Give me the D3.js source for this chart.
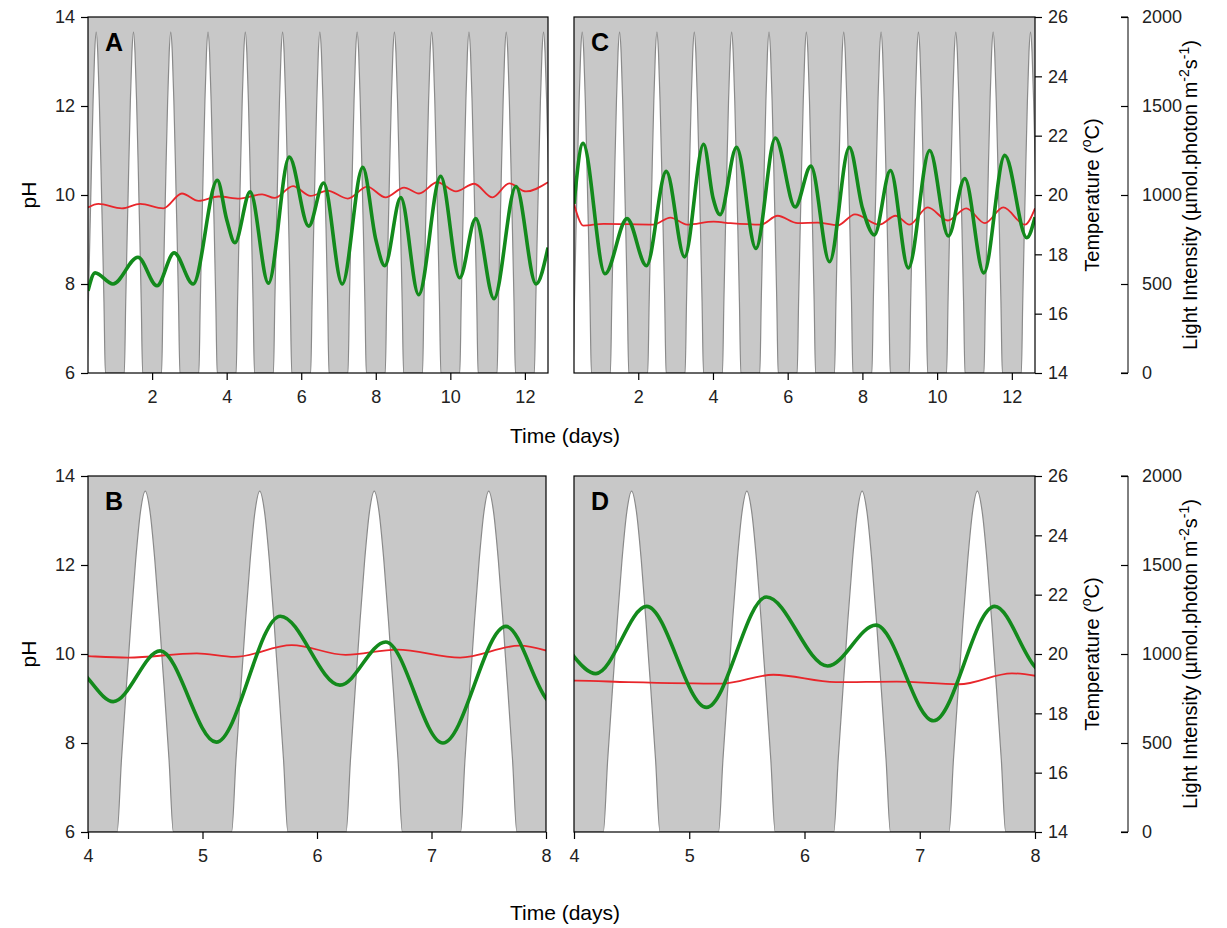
<!DOCTYPE html>
<html>
<head>
<meta charset="utf-8">
<script src="https://cdn.jsdelivr.net/npm/d3@7"></script>
<style>
  body { margin: 0; background: #fff; }
  text { font-family: "Liberation Sans", Arial, sans-serif; }
</style>
</head>
<body>
<svg id="chart" width="1227" height="928"></svg>
<script>
var phA = [[0.28,7.85],[0.47,8.25],[0.95,8.0],[1.62,8.6],[2.13,7.96],[2.59,8.7],[3.1,8.0],
  [3.75,10.33],[4.0,9.45],[4.22,8.93],[4.63,10.07],[5.12,8.02],[5.68,10.85],[6.2,9.3],[6.6,10.27],
  [7.1,8.0],[7.65,10.62],[8.0,9.0],[8.24,8.41],[8.67,9.94],[9.15,7.76],[9.74,10.42],[10.25,8.14],
  [10.68,9.47],[11.17,7.67],[11.76,10.19],[12.3,8.0],[12.62,8.82]];
var phC = [[0.28,9.8],[0.52,11.16],[1.11,8.23],[1.7,9.47],[2.22,8.41],[2.75,10.53],[3.24,8.61],
  [3.75,11.14],[4.0,9.94],[4.19,9.56],[4.63,11.07],[5.15,8.8],[5.67,11.28],[6.2,9.73],[6.62,10.65],
  [7.12,8.5],[7.65,11.07],[8.0,9.71],[8.32,9.1],[8.75,10.55],[9.23,8.36],[9.8,11.0],[10.3,9.08],
  [10.74,10.37],[11.25,8.25],[11.81,10.89],[12.4,9.04],[12.62,9.5]];
// temperature (red), [day, °C]
var tempA = [[0.28,19.58],[0.56,19.7],[1.19,19.55],[1.68,19.7],[2.3,19.55],[2.8,20.05],[3.25,19.8],
  [3.78,19.95],[4.35,19.88],[4.95,20.02],[5.28,19.9],[5.78,20.3],[6.25,19.97],[6.7,20.15],
  [7.25,19.88],[7.77,20.28],[8.26,19.92],[8.76,20.25],[9.16,20.05],[9.65,20.43],[10.15,20.12],
  [10.64,20.38],[11.13,19.92],[11.58,20.39],[12.03,20.12],[12.62,20.43]];
var tempC = [[0.28,19.7],[0.53,18.97],[1.07,19.03],[2.41,19.0],[2.86,19.24],[3.31,19.0],[4.02,19.1],
  [4.47,19.05],[5.28,19.0],[5.73,19.3],[6.27,19.05],[6.8,19.07],[7.34,18.98],[7.8,19.35],
  [8.45,19.0],[8.89,19.3],[9.26,19.0],[9.75,19.58],[10.29,19.14],[10.78,19.55],[11.28,19.05],
  [11.77,19.58],[12.35,19.0],[12.62,19.55]];
// one day's light profile, [hour, µmol photon m-2 s-1], repeated every day
var lightDay = [[6.1,0],[7,400],[8,800],[8.5,985],[9,1180],[10,1530],[11,1800],[12,1915],
  [13,1800],[14,1530],[15,1180],[15.5,985],[16,800],[17,400],[17.9,0]];
var pHTicks = [6, 8, 10, 12, 14];
var tempTicks = [14, 16, 18, 20, 22, 24, 26];
var lightTicks = [0, 500, 1000, 1500, 2000];

var svg = d3.select("#chart");

function lightSeries(d0, d1) {
  var pts = [];
  for (var day = Math.floor(d0) - 1; day <= Math.ceil(d1); day++) {
    lightDay.forEach(function (p) { pts.push([day + p[0] / 24, p[1]]); });
  }
  return pts;
}

function panel(o) {
  var x = d3.scaleLinear().domain(o.days).range([o.x0, o.x1]);
  var yPH = d3.scaleLinear().domain([6, 14]).range([o.y1, o.y0]);
  var yT = d3.scaleLinear().domain([14, 26]).range([o.y1, o.y0]);
  var yL = d3.scaleLinear().domain([0, 2000]).range([o.y1, o.y0]);
  var id = "clip" + o.label;
  svg.append("clipPath").attr("id", id).append("rect")
    .attr("x", o.x0).attr("y", o.y0).attr("width", o.x1 - o.x0).attr("height", o.y1 - o.y0);
  var g = svg.append("g").attr("clip-path", "url(#" + id + ")");
  g.append("rect").attr("x", o.x0).attr("y", o.y0).attr("width", o.x1 - o.x0)
    .attr("height", o.y1 - o.y0).attr("fill", "#c8c8c8");
  var lp = lightSeries(o.days[0], o.days[1]);
  g.append("path").datum(lp)
    .attr("d", d3.area().x(function (d) { return x(d[0]); }).y0(o.y1 + 2)
      .y1(function (d) { return yL(d[1]); }).curve(d3.curveMonotoneX))
    .attr("fill", "#fff");
  g.append("path").datum(lp)
    .attr("d", d3.line().x(function (d) { return x(d[0]); })
      .y(function (d) { return yL(d[1]); }).curve(d3.curveMonotoneX))
    .attr("fill", "none").attr("stroke", "#8a8a8a").attr("stroke-width", 1.2);
  g.append("path").datum(o.temp)
    .attr("d", d3.line().x(function (d) { return x(d[0]); })
      .y(function (d) { return yT(d[1]); }).curve(d3.curveMonotoneX))
    .attr("fill", "none").attr("stroke", "#e8262b").attr("stroke-width", 1.8);
  g.append("path").datum(o.ph)
    .attr("d", d3.line().x(function (d) { return x(d[0]); })
      .y(function (d) { return yPH(d[1]); }).curve(d3.curveMonotoneX))
    .attr("fill", "none").attr("stroke", "#138a1c").attr("stroke-width", 3.6);
  svg.append("rect").attr("x", o.x0).attr("y", o.y0).attr("width", o.x1 - o.x0)
    .attr("height", o.y1 - o.y0).attr("fill", "none").attr("stroke", "#000").attr("stroke-width", 1.2);
  svg.append("text").attr("x", o.x0 + 17).attr("y", o.y0 + 34).text(o.label)
    .attr("font-size", 25).attr("font-weight", "bold");

  var ax = svg.append("g").attr("transform", "translate(0," + o.y1 + ")")
    .call(d3.axisBottom(x).tickValues(o.xTicks).tickSize(7).tickPadding(10).tickFormat(d3.format("d")));
  ax.select(".domain").remove();
  if (o.left) {
    var ay = svg.append("g").attr("transform", "translate(" + o.x0 + ",0)")
      .call(d3.axisLeft(yPH).tickValues(pHTicks).tickSize(7).tickPadding(6));
    ay.select(".domain").remove();
    svg.append("text").attr("transform", "translate(" + (o.x0 - 52) + "," + ((o.y0 + o.y1) / 2) + ") rotate(-90)")
      .attr("text-anchor", "middle").attr("font-size", 21).text("pH");
  } else {
    var at = svg.append("g").attr("transform", "translate(" + o.x1 + ",0)")
      .call(d3.axisRight(yT).tickValues(tempTicks).tickSize(7).tickPadding(6));
    at.select(".domain").remove();
    var al = svg.append("g").attr("transform", "translate(" + (o.x1 + 93) + ",0)")
      .call(d3.axisRight(yL).tickValues(lightTicks).tickSize(-7).tickPadding(14).tickFormat(d3.format("d")));
    al.select(".domain").attr("d", "M-7," + o.y0 + "H0V" + o.y1 + "H-7");
    var tl = svg.append("text").attr("transform", "translate(" + (o.x1 + 64) + "," + ((o.y0 + o.y1) / 2) + ") rotate(-90)")
      .attr("text-anchor", "middle").attr("font-size", 20);
    tl.append("tspan").text("Temperature (");
    tl.append("tspan").attr("dy", -8).attr("font-size", 14).text("o");
    tl.append("tspan").attr("dy", 8).text("C)");
    var ll = svg.append("text").attr("transform", "translate(" + (o.x1 + 162) + "," + ((o.y0 + o.y1) / 2) + ") rotate(-90)")
      .attr("text-anchor", "middle").attr("font-size", 20);
    ll.append("tspan").text("Light Intensity (\u00b5mol.photon m");
    ll.append("tspan").attr("dy", -8).attr("font-size", 14).text("-2");
    ll.append("tspan").attr("dy", 8).text("s");
    ll.append("tspan").attr("dy", -8).attr("font-size", 14).text("-1");
    ll.append("tspan").attr("dy", 8).text(")");
  }
  svg.selectAll(".tick text").attr("font-size", 18).attr("fill", "#222")
    .attr("font-family", "Liberation Sans, Arial, sans-serif");
  svg.selectAll(".tick line").attr("stroke-width", 1.2);
}

var topRow = { y0: 17, y1: 373, days: [0.28, 12.62], xTicks: [2, 4, 6, 8, 10, 12] };
var botRow = { y0: 476, y1: 832, days: [4, 8], xTicks: [4, 5, 6, 7, 8] };
panel(Object.assign({}, topRow, { label: "A", x0: 88, x1: 548, ph: phA, temp: tempA, left: true }));
panel(Object.assign({}, topRow, { label: "C", x0: 574, x1: 1035, ph: phC, temp: tempC, left: false }));
panel(Object.assign({}, botRow, { label: "B", x0: 88, x1: 546, ph: phA, temp: tempA, left: true }));
panel(Object.assign({}, botRow, { label: "D", x0: 574, x1: 1035, ph: phC, temp: tempC, left: false }));

svg.append("text").attr("x", 565).attr("y", 443).attr("text-anchor", "middle")
  .attr("font-size", 21).text("Time (days)");
svg.append("text").attr("x", 565).attr("y", 920).attr("text-anchor", "middle")
  .attr("font-size", 21).text("Time (days)");
</script>
</body>
</html>
